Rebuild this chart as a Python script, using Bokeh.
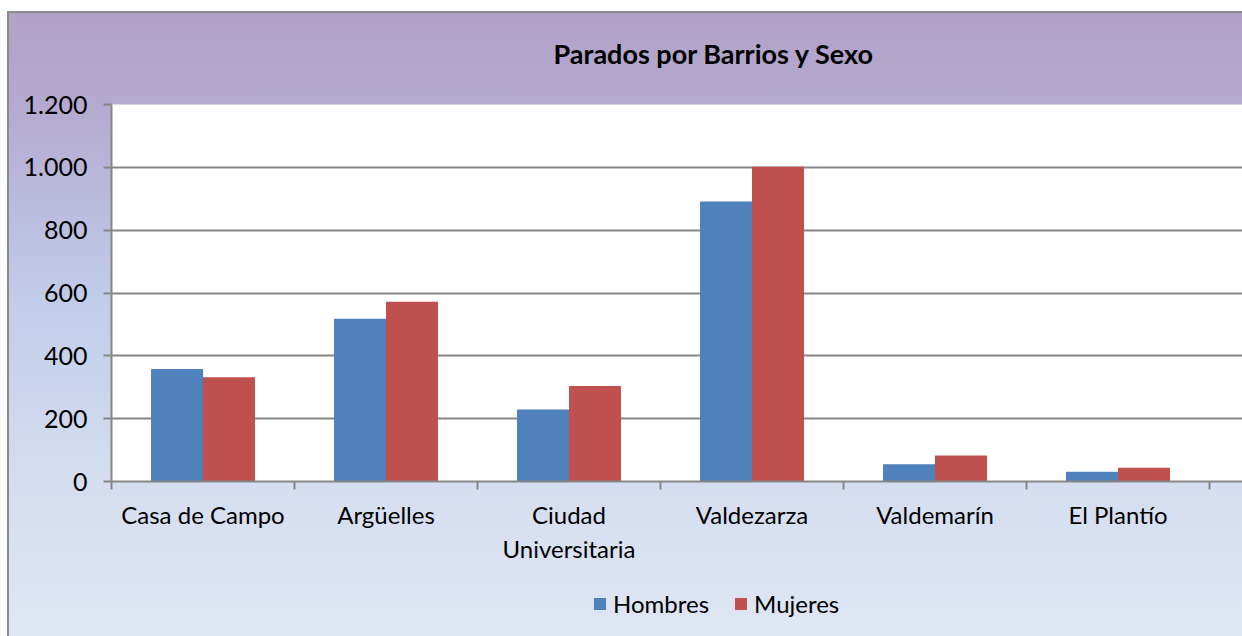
import numpy as np
from bokeh.plotting import figure
from bokeh.layouts import column
from bokeh.models import Range1d, FixedTicker, Legend, LegendItem, ColumnDataSource
from bokeh.embed import file_html
from bokeh.resources import INLINE

# ---- data ----
barrios = ["Casa de Campo", "Argüelles", "Ciudad\nUniversitaria", "Valdezarza", "Valdemarín", "El Plantío"]
hombres = [358, 518, 229, 891, 55, 31]
mujeres = [332, 572, 304, 1002, 83, 44]
y_ticks = [0, 200, 400, 600, 800, 1000, 1200]
y_tick_labels = ["0", "200", "400", "600", "800", "1.000", "1.200"]
title_text = "Parados por Barrios y Sexo"
series_names = ["Hombres", "Mujeres"]
colors = ["#4F81BD", "#C0504D"]

FONT = "Lato"
FS = "24px"
GRAY = "#868686"

n = len(barrios)
centers = np.arange(n) + 0.5
bw = 0.284

W, H1, H2 = 1242, 580, 56
p = figure(width=W, height=H1, output_backend="svg", toolbar_location=None,
           x_range=Range1d(0, 1131 / 183.0), y_range=Range1d(0, 1200),
           min_border_left=111, min_border_right=0, min_border_top=103, min_border_bottom=99,
           background_fill_color="white", border_fill_color=None, outline_line_color=None)

src_h = ColumnDataSource(dict(x=centers - bw / 2, top=hombres))
src_m = ColumnDataSource(dict(x=centers + bw / 2, top=mujeres))
p.vbar(x="x", top="top", width=bw, source=src_h, fill_color=colors[0], line_color=None)
p.vbar(x="x", top="top", width=bw, source=src_m, fill_color=colors[1], line_color=None)

# title
p.title.text = title_text
p.title.text_font = FONT
p.title.text_font_size = "27px"
p.title.text_font_style = "bold"
p.title.align = "left"
p.title.offset = 442
p.title.standoff = 69
p.title.text_color = "black"

# y axis
ya = p.yaxis[0]
ya.ticker = FixedTicker(ticks=y_ticks)
ya.major_label_overrides = {t: l for t, l in zip(y_ticks, y_tick_labels)}
ya.major_label_text_font = FONT
ya.major_label_text_font_size = "25px"
ya.major_label_text_color = "black"
ya.major_tick_out = 8
ya.major_tick_in = 0
ya.minor_tick_out = 0
ya.minor_tick_in = 0
ya.major_tick_line_color = GRAY
ya.major_tick_line_width = 2
ya.axis_line_color = GRAY
ya.axis_line_width = 2
ya.major_label_standoff = 16

# x axis
xa = p.xaxis[0]
xa.ticker = FixedTicker(ticks=list(centers), minor_ticks=list(range(n + 1)))
xa.major_label_overrides = {float(c): b for c, b in zip(centers, barrios)}
xa.major_label_text_font = FONT
xa.major_label_text_font_size = FS
xa.major_label_text_color = "black"
xa.major_tick_out = 0
xa.major_tick_in = 0
xa.minor_tick_out = 8
xa.minor_tick_in = 0
xa.minor_tick_line_color = GRAY
xa.minor_tick_line_width = 2
xa.axis_line_color = GRAY
xa.axis_line_width = 2
xa.major_label_standoff = 10

p.xgrid.visible = False
p.ygrid.ticker = FixedTicker(ticks=y_ticks)
p.ygrid.grid_line_color = GRAY
p.ygrid.grid_line_width = 2

# legend strip (a frame-only figure below the chart); the legend swatch
# renderers hold one off-range row so that their swatches get drawn
p2 = figure(width=W, height=H2, output_backend="svg", toolbar_location=None,
            x_axis_location=None, y_axis_location=None, min_border=0,
            x_range=Range1d(0, 1), y_range=Range1d(0, 1),
            background_fill_color=None, border_fill_color=None, outline_line_color=None)
p2.grid.visible = False
off = dict(left=[-3], right=[-2], top=[-2], bottom=[-3])
l1 = p2.quad(source=ColumnDataSource(off), left="left", right="right", top="top", bottom="bottom",
             fill_color=colors[0], line_color=None)
l2 = p2.quad(source=ColumnDataSource(dict(off)), left="left", right="right", top="top", bottom="bottom",
             fill_color=colors[1], line_color=None)
legend = Legend(items=[LegendItem(label=series_names[0], renderers=[l1]),
                       LegendItem(label=series_names[1], renderers=[l2])],
                orientation="horizontal", location=(481, 18),
                glyph_width=15, glyph_height=15, label_standoff=6, spacing=24,
                padding=0, margin=0,
                label_text_font=FONT, label_text_font_size=FS, label_text_color="black",
                background_fill_alpha=0, border_line_color=None)
p2.add_layout(legend, "center")

lay = column(p, p2, spacing=0)
lay.styles = {
    "background": "linear-gradient(to bottom, #ffffff 0px, #ffffff 11px, transparent 11px), "
                  "linear-gradient(to right, #ffffff 0px, #ffffff 7px, #8a8a8a 7px, #8a8a8a 9px, transparent 9px), "
                  "linear-gradient(to bottom, #8a8a8a 0px, #8a8a8a 13px, #B1A1C7 13px, #B4A9CF 100px, "
                  "#C1CDEA 305px, #D4DEF0 480px, #DFE6F4 100%)",
}

open("out.html", "w").write(file_html(lay, INLINE))
